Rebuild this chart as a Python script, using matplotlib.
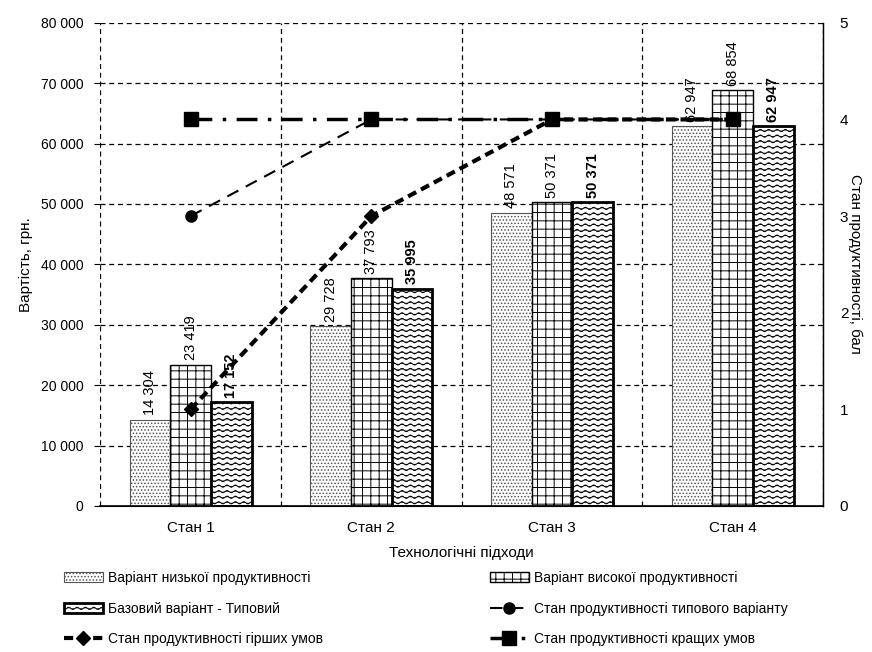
import numpy as np
import matplotlib
matplotlib.use('Agg')
import matplotlib.pyplot as plt
import matplotlib.hatch as mhatch
from matplotlib.path import Path

plt.rcParams['font.family'] = ['Liberation Sans', 'DejaVu Sans']
plt.rcParams['hatch.linewidth'] = 0.7


# wavy hatch for the base variant ('~')
class WaveHatch(mhatch.HatchPatternBase):
    def __init__(self, hatch, density):
        self.num_lines = int(hatch.count('~') * density)
        self.n_pts = 12 * 8 + 1
        self.num_vertices = self.num_lines * self.n_pts

    def set_vertices_and_codes(self, vertices, codes):
        if self.num_lines == 0:
            return
        step = 1.0 / self.num_lines
        amp = step * 0.2
        xs = np.linspace(0, 1, self.n_pts)
        k = 0
        for i in range(self.num_lines):
            y0 = i * step + step / 2
            for j, xv in enumerate(xs):
                vertices[k] = (xv, y0 + amp * np.sin(2 * np.pi * 12 * xv))
                codes[k] = Path.MOVETO if j == 0 else Path.LINETO
                k += 1


mhatch._hatch_types.append(WaveHatch)

# data
states = ['Стан 1', 'Стан 2', 'Стан 3', 'Стан 4']
low_prod = [14304, 29728, 48571, 62947]
high_prod = [23419, 37793, 50371, 68854]
base_var = [17152, 35995, 50371, 62947]

typical_state = [3, 4, 4, 4]
worse_state = [1, 3, 4, 4]
best_state = [4, 4, 4, 4]


def fmt(v):
    return '{:,}'.format(v).replace(',', ' ')


fig = plt.figure(figsize=(8.72, 6.52), dpi=100)
ax = fig.add_axes([0.115, 0.224, 0.829, 0.741])
ax2 = ax.twinx()

x = np.arange(len(states))
w = 0.225

b1 = ax.bar(x - w, low_prod, w, facecolor='white', edgecolor='#555555', linewidth=0.8,
            hatch='.....', label='Варіант низької продуктивності')
b2 = ax.bar(x, high_prod, w, facecolor='white', edgecolor='black', linewidth=1.0,
            hatch='++', label='Варіант високої продуктивності')
b3 = ax.bar(x + w, base_var, w, facecolor='white', edgecolor='black', linewidth=2.0,
            hatch='~~~', label='Базовий варіант - Типовий')

for bars, vals, wt in [(b1, low_prod, 'normal'), (b2, high_prod, 'normal'), (b3, base_var, 'bold')]:
    for r, v in zip(bars, vals):
        ax.annotate(fmt(v), (r.get_x() + r.get_width() / 2, v), xytext=(0, 3),
                    textcoords='offset points', rotation=90, ha='center', va='bottom',
                    fontsize=10.5, fontweight=wt)

ax.set_xlim(-0.5, 3.5)
ax.set_ylim(0, 80000)
ax.set_yticks(np.arange(0, 80001, 10000))
ax.set_yticklabels([fmt(v) for v in range(0, 80001, 10000)], fontsize=10)
ax.tick_params(axis='y', length=4, pad=8)
ax.set_xticks(x)
ax.set_xticklabels(states, fontsize=11)
ax.set_xticks(np.arange(-0.5, 3.6, 0.5), minor=True)
ax.tick_params(axis='x', which='both', length=0, pad=11)
ax.grid(True, which='minor', axis='x', linestyle=(0, (4, 3)), color='black', linewidth=0.9)
ax.grid(True, which='major', axis='y', linestyle=(0, (4, 3)), color='black', linewidth=0.9)
ax.set_axisbelow(True)
ax.set_xlabel('Технологічні підходи', fontsize=11, labelpad=8)
ax.set_ylabel('Вартість, грн.', fontsize=11, labelpad=6)
for s in ['top', 'left']:
    ax.spines[s].set_visible(False)
ax2.spines['top'].set_visible(False)
ax2.spines['left'].set_visible(False)
ax2.spines['right'].set_linewidth(1.0)
ax.spines['bottom'].set_linewidth(1.2)

l1, = ax2.plot(x, typical_state, color='black', linewidth=1.5, linestyle=(0, (6, 4)),
               marker='o', markersize=8, label='Стан продуктивності типового варіанту')
l2, = ax2.plot(x, worse_state, color='black', linewidth=3, linestyle=(0, (2.2, 1.3)),
               marker='D', markersize=7, label='Стан продуктивності гірших умов')
l3, = ax2.plot(x, best_state, color='black', linewidth=2.5, linestyle=(0, (6, 3, 1, 3)),
               marker='s', markersize=10, label='Стан продуктивності кращих умов')
ax2.set_ylim(0, 5)
ax2.set_yticks(range(6))
ax2.tick_params(axis='y', labelsize=11, length=0, pad=12)
ax2.set_ylabel('Стан продуктивності, бал', fontsize=11, rotation=270, labelpad=10)

handles = [b1, b3, l2, b2, l1, l3]
fig.legend(handles, [h.get_label() for h in handles], loc='upper left',
           bbox_to_anchor=(0.065, 0.135), ncol=2, frameon=False, fontsize=10,
           handlelength=2.8, handletextpad=0.4, labelspacing=1.2, columnspacing=12,
           borderpad=0)

fig.savefig('out.png', dpi=100)
